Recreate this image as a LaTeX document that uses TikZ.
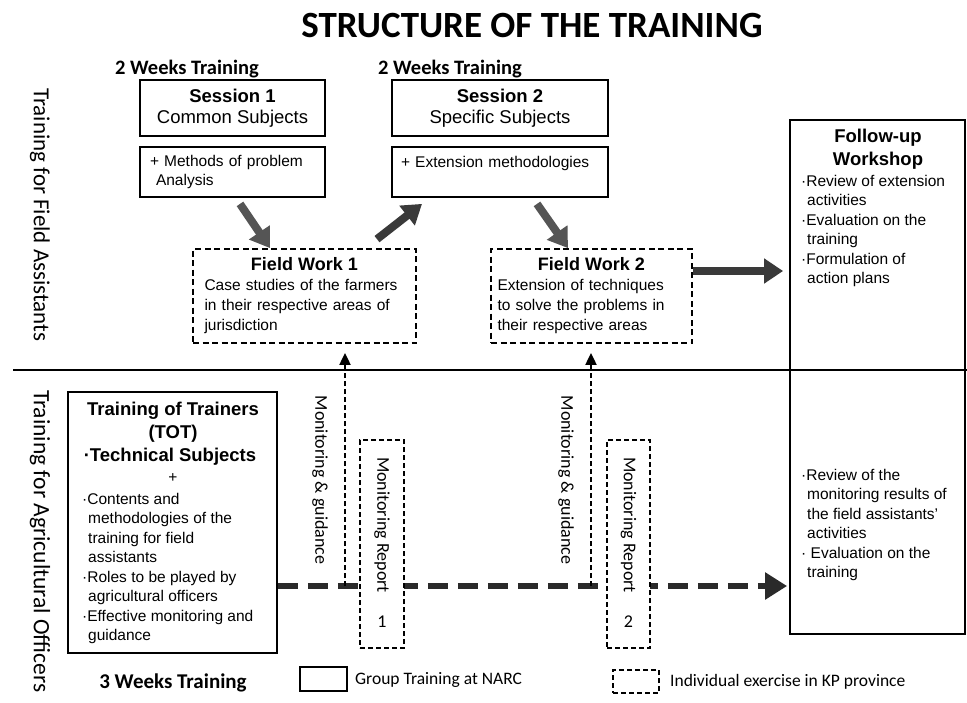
\documentclass[tikz,border=0pt]{standalone}
\usepackage{fontspec}
\setmainfont{Liberation Sans}
\newfontfamily\calib{Carlito}
\usetikzlibrary{arrows.meta}
\newcommand\setfs[2]{\fontsize{#1}{#2}\selectfont}
\newcommand\ind{\hspace*{6pt}}
\definecolor{arrowgray}{HTML}{555555}
\definecolor{darkarrow}{HTML}{3A3A3A}
\definecolor{flowink}{HTML}{2A2A2A}
\hyphenpenalty=10000
\exhyphenpenalty=10000

\begin{document}
\begin{tikzpicture}[x=1pt,y=-1pt,
  txt/.style={inner sep=0pt},
  solidbox/.style={draw=black, line width=1.8pt, inner sep=0pt},
  dashbox/.style={draw=black, line width=1.8pt, dash pattern=on 6pt off 3.5pt, inner sep=0pt},
  reportbox/.style={draw=black, fill=white, line width=1.6pt, dash pattern=on 5pt off 3pt, inner sep=0pt},
  bigarrow/.style={draw=arrowgray, line width=8pt, -{Triangle[width=24pt,length=19pt]}},
  guide/.style={draw=black, line width=2pt, dash pattern=on 5pt off 3pt, -{Triangle[width=11pt,length=12pt]}},
  flow/.style={draw=flowink, line width=5.5pt, dash pattern=on 20pt off 10pt, -{Triangle[width=26pt,length=22pt]}},
  body/.style={font=\setfs{15.5}{19.5}},
  calibri/.style={font=\calib\setfs{18}{20}}
]
\fill[white] (0,0) rectangle (967,702);
\useasboundingbox (0,0) rectangle (967,702);

% heading and durations
\node[txt, font=\calib\bfseries\setfs{37}{40}] (title) at (532,26) {STRUCTURE OF THE TRAINING};
\node[txt, font=\calib\bfseries\setfs{20.5}{22}] (wk1) at (187,69) {2 Weeks Training};
\node[txt, font=\calib\bfseries\setfs{20.5}{22}] (wk2) at (450,69) {2 Weeks Training};
\node[txt, font=\calib\bfseries\setfs{21}{22}] (wk3) at (173,683) {3 Weeks Training};

% row labels and divider
\node[txt, rotate=-90, font=\calib\setfs{23}{25}] (rowA) at (40,215) {Training for Field Assistants};
\node[txt, rotate=-90, anchor=west, font=\calib\setfs{23.5}{25}] (rowB) at (40,390) {Training for Agricultural Officers};
\coordinate (dl) at (13,370);
\coordinate (dr) at (967,370);
\draw[line width=1.5pt] (dl) -- (dr);

% group sessions
\node[solidbox, minimum width=185pt, minimum height=56pt, align=center, font=\setfs{18.5}{21}] (s1) at (232.5,108) {\textbf{Session 1}\\Common Subjects};
\node[solidbox, minimum width=185pt, minimum height=50pt, text width=165pt, align=left, body] (m1) at (232.5,172) {+ Methods of problem\\\ind Analysis};
\node[solidbox, minimum width=216pt, minimum height=56pt, align=center, font=\setfs{18.5}{21}] (s2) at (500,108) {\textbf{Session 2}\\Specific Subjects};
\node[solidbox, minimum width=216pt, minimum height=50pt, text width=198pt, align=left, body] (e2) at (500,172) {+ Extension methodologies\\\mbox{}};

% field work
\node[dashbox, minimum width=223pt, minimum height=94pt, text width=200pt, align=left, font=\setfs{15.5}{20}] (fw1) at (304.5,296)
  {\makebox[200pt]{\bfseries\setfs{18}{20}Field Work 1}\\Case studies of the farmers\\in their respective areas of\\jurisdiction};
\node[dashbox, minimum width=201pt, minimum height=94pt, text width=188pt, align=left, font=\setfs{15.5}{20}] (fw2) at (591.5,296)
  {\makebox[188pt]{\bfseries\setfs{18}{20}Field Work 2}\\Extension of techniques\\to solve the problems in\\their respective areas};

% follow-up workshop
\node[solidbox, minimum width=175pt, minimum height=514pt] (fu) at (877.5,377) {};
\node[txt, align=center, font=\bfseries\setfs{18.5}{23}] (fuhead) at (878,149) {Follow-up\\Workshop};
\node[txt, anchor=north west, align=left, body] (fuA) at (801,175)
  {·Review of extension\\\ind activities\\·Evaluation on the\\\ind training\\·Formulation of\\\ind action plans};
\node[txt, anchor=north west, align=left, body] (fuB) at (801,469)
  {·Review of the\\\ind monitoring results of\\\ind the field assistants'\\\ind activities\\· Evaluation on the\\\ind training};

% training of trainers
\node[solidbox, minimum width=209pt, minimum height=261pt] (tot) at (172.5,522.5) {};
\node[txt, align=center, font=\bfseries\setfs{18.5}{23}] (totT) at (173,422) {Training of Trainers\\(TOT)};
\node[txt, font=\bfseries\setfs{18.5}{21}] (totS) at (170,457) {·Technical Subjects};
\node[txt, body] (totP) at (173,478) {+};
\node[txt, anchor=north west, align=left, body] (totL) at (82,493)
  {·Contents and\\\ind methodologies of the\\\ind training for field\\\ind assistants\\·Roles to be played by\\\ind agricultural officers\\·Effective monitoring and\\\ind guidance};

% monitoring flow in the province
\coordinate (fy) at (0,586);
\draw[flow, shorten >=2pt] (tot.east |- fy) -- (fu.west |- fy);
\coordinate (g1) at (345,586);
\coordinate (g2) at (591,586);
\draw[guide, shorten >=9pt] (g1) -- (g1 |- fw1.south);
\draw[guide, shorten >=9pt] (g2) -- (g2 |- fw2.south);
\node[txt, rotate=-90, calibri] (mg1) at (320,480) {Monitoring \& guidance};
\node[txt, rotate=-90, calibri] (mg2) at (566,480) {Monitoring \& guidance};

\node[reportbox, minimum width=44pt, minimum height=208pt] (mr1) at (382,544) {};
\node[txt, rotate=-90, calibri] (mr1t) at (382,525) {Monitoring Report};
\node[txt, calibri] (mr1n) at (382,622) {1};
\node[reportbox, minimum width=43pt, minimum height=208pt] (mr2) at (628.5,544) {};
\node[txt, rotate=-90, calibri] (mr2t) at (628.5,525) {Monitoring Report};
\node[txt, calibri] (mr2n) at (628.5,622) {2};

% sequence arrows
\draw[bigarrow] ([xshift=7.5pt,yshift=-6pt]m1.south) -- ([xshift=-34.5pt]fw1.north);
\draw[bigarrow, draw=darkarrow] ([xshift=72.5pt,yshift=9pt]fw1.north) -- ([xshift=-78pt,yshift=-6pt]e2.south);
\draw[bigarrow] ([xshift=37pt,yshift=-6pt]e2.south) -- ([xshift=-23.5pt]fw2.north);
\coordinate (a4) at ([yshift=25pt]fw2.east);
\draw[bigarrow, draw=darkarrow, line width=7.5pt, shorten >=6pt] (a4) -- (a4 -| fu.west);

% legend
\node[solidbox, line width=1.6pt, minimum width=47pt, minimum height=24pt] (lg1) at (323.5,679) {};
\node[txt, anchor=west, font=\calib\setfs{17.5}{20}] (lg1t) at (355,680) {Group Training at NARC};
\node[reportbox, minimum width=46pt, minimum height=23pt] (lg2) at (636,681.5) {};
\node[txt, anchor=west, font=\calib\setfs{17.5}{20}] (lg2t) at (670,682) {Individual exercise in KP province};
\end{tikzpicture}
\end{document}
